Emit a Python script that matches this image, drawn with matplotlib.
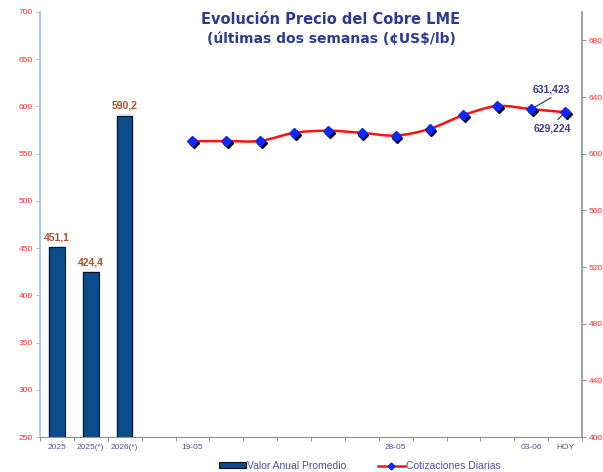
import numpy as np
import matplotlib
matplotlib.use("Agg")
import matplotlib.pyplot as plt
from matplotlib.path import Path
from matplotlib.patches import PathPatch, Patch
from matplotlib.lines import Line2D
import matplotlib.transforms as mtransforms

# ---- data ----
categories = ["2025", "2025(*)", "2026(*)", "", "19-05", "", "", "", "", "",
              "28-05", "", "", "", "03-06", "HOY"]
bar_labels = ["2025", "2025(*)", "2026(*)"]
bar_values = [451.1, 424.4, 590.2]
bar_text = ["451,1", "424,4", "590,2"]
daily_values = [608.8, 608.9, 609.0, 614.7, 616.2, 614.7, 612.8,
                617.5, 627.2, 633.6, 631.423, 629.224]
daily_first_index = 4
ann_631 = "631,423"
ann_629 = "629,224"

plt.rcParams['font.family'] = ['Liberation Sans', 'DejaVu Sans']

fig = plt.figure(figsize=(6.03, 4.72), dpi=100)
ax = fig.add_axes([40/603, 1-437/472, (582-40)/603, (437-12)/472])
ax2 = ax.twinx()

n = len(categories)
x = np.arange(n)
ax.set_xlim(-0.5, n-0.5)
ax.set_ylim(250, 700)
ax2.set_ylim(400, 700)

bar_color = "#0C4C8A"
xb = np.arange(len(bar_values))
# glow
ax.bar(xb, np.array(bar_values) + 1.5, width=0.53, bottom=0, color="#D6E6F6",
       edgecolor="none", zorder=1)
ax.bar(xb, bar_values, width=0.46, color=bar_color, edgecolor="#0A0A20", linewidth=0.8, zorder=2)
for xi, v, t in zip(xb, bar_values, bar_text):
    ax.text(xi, v + 5, t, ha="center", va="bottom", fontsize=7.5, fontweight="bold",
            color="#B0522A", zorder=3)

# smooth line through daily points (drawing only)
xd = np.arange(daily_first_index, daily_first_index + len(daily_values))
yd = np.array(daily_values)
verts = [(xd[0], yd[0])]
codes = [Path.MOVETO]
for i in range(len(xd) - 1):
    p0 = np.array([xd[max(i-1, 0)], yd[max(i-1, 0)]])
    p1 = np.array([xd[i], yd[i]])
    p2 = np.array([xd[i+1], yd[i+1]])
    p3 = np.array([xd[min(i+2, len(xd)-1)], yd[min(i+2, len(xd)-1)]])
    c1 = p1 + (p2 - p0) / 6.0
    c2 = p2 - (p3 - p1) / 6.0
    verts += [tuple(c1), tuple(c2), tuple(p2)]
    codes += [Path.CURVE4] * 3
ax2.add_patch(PathPatch(Path(verts, codes), facecolor="none", edgecolor="#FF1010",
                        linewidth=1.8, zorder=3))
shadow = mtransforms.offset_copy(ax2.transData, fig=fig, x=1.6, y=-2.0, units="dots")
ax2.plot(xd, yd, linestyle="none", marker="D", markersize=4.6, color="black",
         transform=shadow, zorder=4)
ax2.plot(xd, yd, linestyle="none", marker="D", markersize=4.6, color="#0A28FF",
         zorder=5)

# annotations
ann_color = "#3A3A90"
ax2.annotate(ann_631, xy=(xd[-2], yd[-2]), xytext=(14.6, 645.5), fontsize=7.5,
             fontweight="bold", color=ann_color, ha="center", va="center",
             arrowprops=dict(arrowstyle="-", color="#303030", lw=0.8,
                             shrinkA=1, shrinkB=3, relpos=(0.65, 0.0)))
ax2.annotate(ann_629, xy=(xd[-1], yd[-1]), xytext=(14.62, 618), fontsize=7.5,
             fontweight="bold", color=ann_color, ha="center", va="center",
             arrowprops=dict(arrowstyle="-", color="#303030", lw=0.8,
                             shrinkA=1, shrinkB=3, relpos=(0.55, 1.0)))

# axes styling
ax.set_yticks(np.arange(250, 701, 50))
ax2.set_yticks(np.arange(400, 681, 40))
ax.tick_params(axis="y", labelsize=6, colors="#FF3030", length=3, width=0.6, pad=2)
ax2.tick_params(axis="y", labelsize=6, colors="#FF3030", length=3, width=0.6, pad=2)
ax.tick_params(axis="y", color="#90B8E0")
ax2.tick_params(axis="y", color="#808080")

ax.set_xticks(np.arange(n + 1) - 0.5, minor=False)
ax.set_xticklabels([])
ax.set_xticks(x, minor=True)
ax.set_xticklabels(categories, minor=True)
ax.tick_params(axis="x", which="major", length=3, width=0.6, color="#808080")
ax.tick_params(axis="x", which="minor", length=0, labelsize=6, colors="#5050A0", pad=5)

ax.spines["top"].set_visible(False)
ax2.spines["top"].set_visible(False)
ax.spines["left"].set_color("#9CC2E8")
ax.spines["left"].set_linewidth(1.2)
ax2.spines["left"].set_visible(False)
ax.spines["right"].set_visible(False)
ax2.spines["right"].set_color("#909090")
ax2.spines["right"].set_linewidth(1.2)
ax.spines["bottom"].set_color("#909090")
ax2.spines["bottom"].set_visible(False)

ax2.set_zorder(ax.get_zorder() + 1)
ax2.patch.set_visible(False)

# title
fig.text(331/603, 1-20/472, "Evolución Precio del Cobre LME", ha="center", va="center",
         fontsize=10.5, fontweight="bold", color="#2E3A92", family="DejaVu Sans")
fig.text(331/603, 1-39/472, "(últimas dos semanas (¢US$/lb)", ha="center", va="center",
         fontsize=10, fontweight="bold", color="#2E3A92", family="DejaVu Sans")

# legend
handles = [Patch(facecolor=bar_color, edgecolor="#0A0A20", linewidth=0.8),
           Line2D([0], [0], color="#FF1010", lw=1.8, marker="D", markersize=3.5,
                  markerfacecolor="#0A28FF", markeredgecolor="#0A28FF")]
leg = fig.legend(handles, ["Valor Anual Promedio", "Cotizaciones Diarias"],
                 loc="center", bbox_to_anchor=(360/603, 1-466/472), ncol=2,
                 frameon=False, fontsize=7.5, handlelength=2.6, handleheight=0.5,
                 handletextpad=0.1, columnspacing=3.0)
for t in leg.get_texts():
    t.set_color("#5050A0")

fig.savefig("out.png", dpi=100)
